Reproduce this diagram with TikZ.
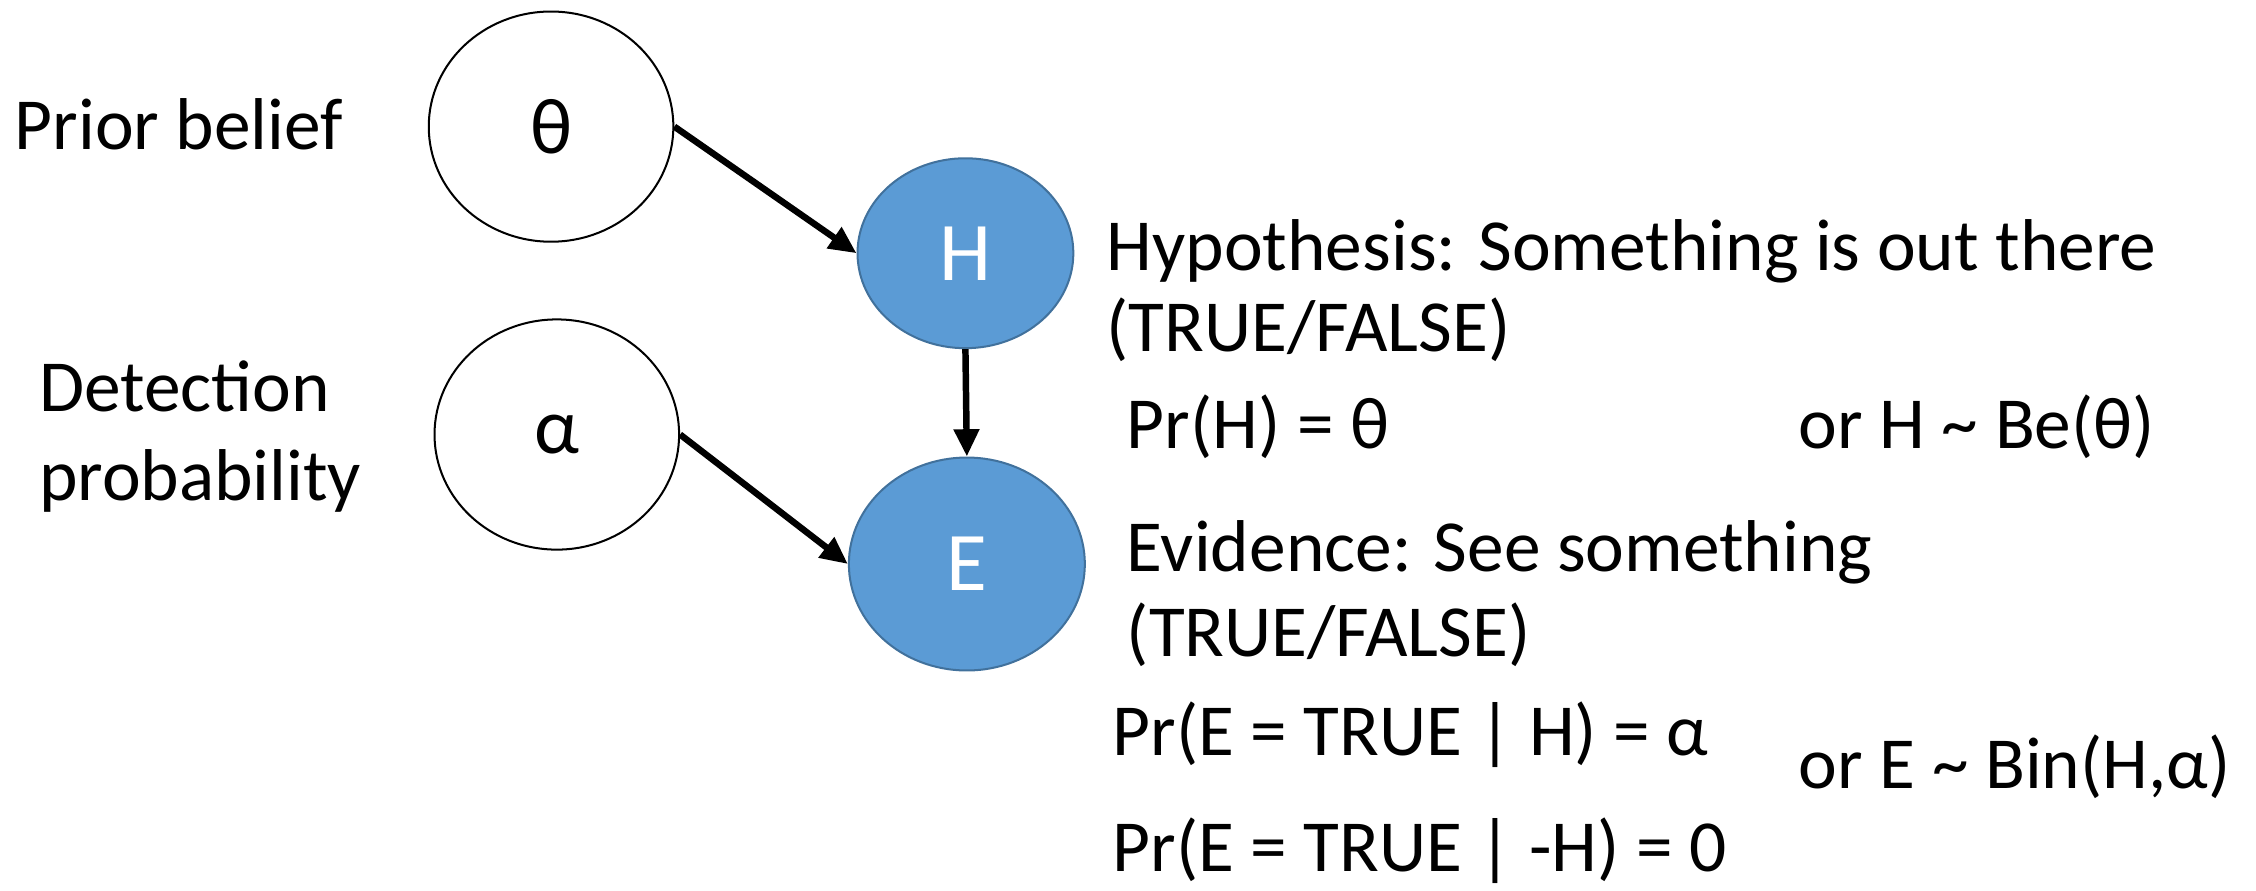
\documentclass[tikz,border=0pt]{standalone}
\usepackage{fontspec}
\setmainfont{Carlito}
\usetikzlibrary{arrows.meta,shapes.geometric}
\definecolor{nodeblue}{HTML}{5B9BD5}
\definecolor{nodeedge}{HTML}{41719C}
\begin{document}
\begin{tikzpicture}[x=1pt,y=-1pt,
  txt/.style={anchor=base west, inner sep=0pt, font=\fontsize{51}{56}\selectfont},
  param/.style={ellipse, draw=black, line width=1.4pt, fill=white, inner sep=0pt,
    minimum width=170pt, minimum height=160pt, font=\fontsize{55}{60}\selectfont},
  var/.style={ellipse, draw=nodeedge, line width=1.4pt, fill=nodeblue, inner sep=0pt,
    text=white, font=\fontsize{58}{62}\selectfont},
  link/.style={line width=4.5pt, -{Triangle[length=19pt,width=17pt]}}
]
\useasboundingbox (0,0) rectangle (1568,619);

% nodes of the network
\node[param] (theta) at (383,88) {θ};
\node[param] (alpha) at (387,302) {α};
\node[var, minimum width=150pt, minimum height=132pt] (H) at (671,176) {H};
\node[var, minimum width=164pt, minimum height=148pt] (E) at (672,392) {E};

% dependencies
\draw[link] (theta.east) -- (H.west);
\draw[link] (H.south) -- (E.north);
\draw[link] (alpha.east) -- (E.west);

% labels on the left
\node[txt] (prior) at (10,104) {Prior belief};
\node[txt] (det1) at (27,286) {Detection};
\node[txt] (det2) at (27,348) {probability};

% description of H
\node[txt] (hyp) at (769,188) {Hypothesis: Something is out there};
\node[txt] (htf) at (769,244) {(TRUE/FALSE)};
\node[txt] (prh) at (783,312) {Pr(H) = θ};
\node[txt] (beh) at (1250,312) {or H \textasciitilde{} Be(θ)};

% description of E
\node[txt] (evi) at (783,397) {Evidence: See something};
\node[txt] (etf) at (783,456) {(TRUE/FALSE)};
\node[txt] (pre1) at (773,525) {Pr(E = TRUE | H) = α};
\node[txt] (bine) at (1250,548) {or E \textasciitilde{} Bin(H,α)};
\node[txt] (pre2) at (773,606) {Pr(E = TRUE | -H) = 0};
\end{tikzpicture}
\end{document}
